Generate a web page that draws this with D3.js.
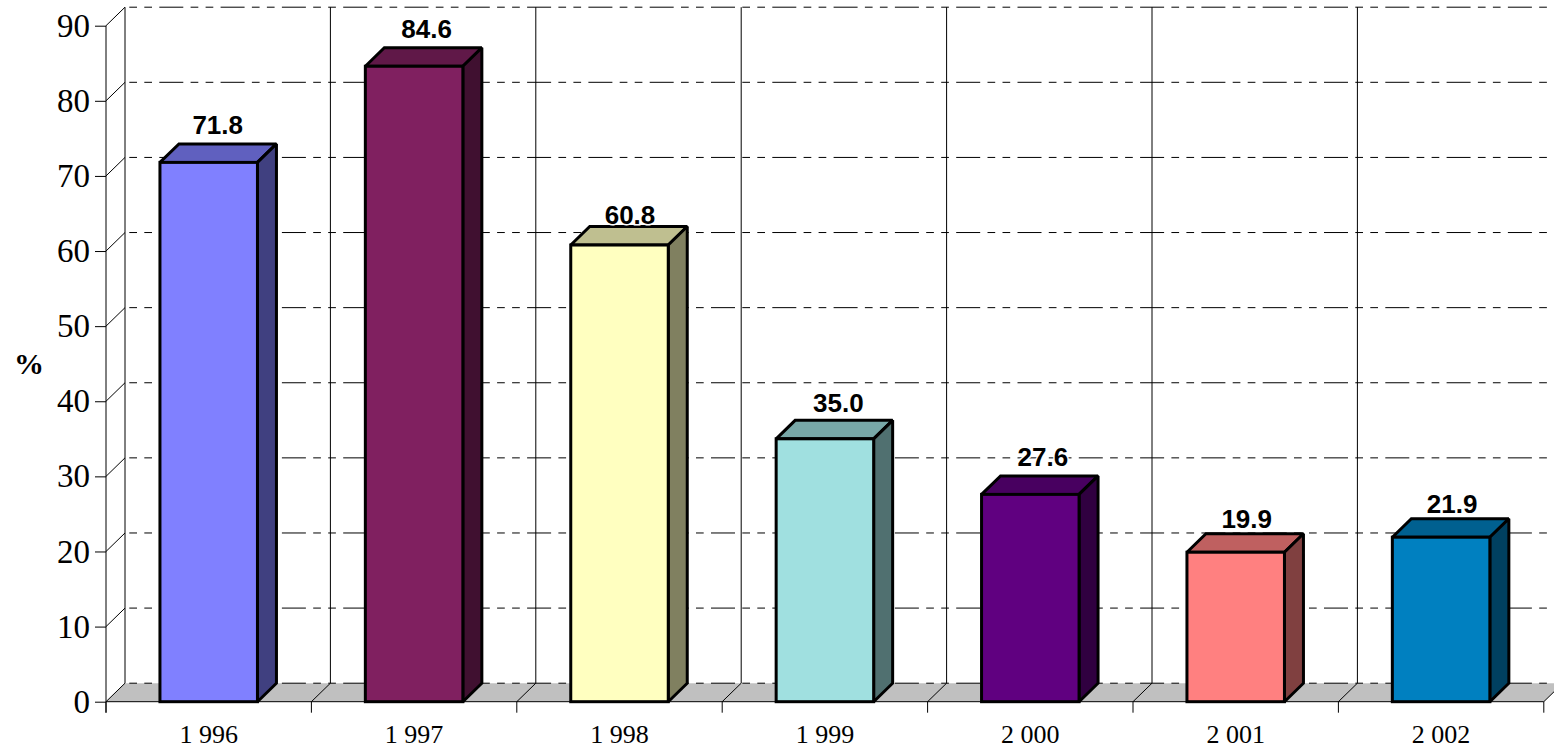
<!DOCTYPE html>
<html>
<head>
<meta charset="utf-8">
<script src="https://cdn.jsdelivr.net/npm/d3@7"></script>
<style>
  html, body { margin: 0; padding: 0; background: #fff; }
  svg { display: block; }
</style>
</head>
<body>
<svg id="chart" width="1554" height="750"></svg>
<script>
// ---------- data ----------
const years = ['1 996', '1 997', '1 998', '1 999', '2 000', '2 001', '2 002'];
const values = [71.8, 84.6, 60.8, 35.0, 27.6, 19.9, 21.9];
const yTicks = [0, 10, 20, 30, 40, 50, 60, 70, 80, 90];
const fronts = ['#8080ff', '#802060', '#ffffc0', '#a0e0e0', '#600080', '#ff8080', '#0080c0'];
// the labels sit a little unevenly in the original
const labelGaps = [10, 9.5, 3, 8, 9.5, 6, 5.5];
const labelShifts = [-0.5, 3, 1, 4, 3, 1.5, 1.5];

// ---------- layout ----------
const svg = d3.select('#chart');
const plotLeft = 106, plotRight = 1543.8, plotBottom = 701.7, plotTop = 25.7;
const depthX = 19, depthY = 18.5;
const barW = 97.5;

const x = d3.scaleBand().domain(years).range([plotLeft, plotRight]);
const y = d3.scaleLinear().domain([0, 90]).range([plotBottom, plotTop]);
const edges = years.map(d => x(d)).concat([plotRight]);

// floor
svg.append('path')
  .attr('d', `M${plotLeft},${plotBottom}L${plotLeft + depthX},${plotBottom - depthY}L${plotRight + depthX},${plotBottom - depthY}L${plotRight},${plotBottom}Z`)
  .attr('fill', '#c0c0c0');

// dashed lines on the back wall
svg.selectAll('line.grid').data(yTicks).enter().append('line')
  .attr('class', 'grid')
  .attr('x1', plotLeft + depthX).attr('x2', 1554)
  .attr('y1', d => y(d) - depthY)
  .attr('y2', d => y(d) - depthY)
  .attr('stroke', '#000')
  .attr('stroke-dasharray', '24,7.3,7.7,7.3,7.7,7.3')
  .attr('stroke-dashoffset', 27);

// verticals on the back wall
svg.selectAll('line.wall').data(edges.slice(0, -1)).enter().append('line')
  .attr('class', 'wall')
  .attr('x1', d => d + depthX).attr('x2', d => d + depthX)
  .attr('y1', plotTop - depthY).attr('y2', plotBottom - depthY)
  .attr('stroke', '#000');

// floor diagonals and the ticks under them
svg.selectAll('line.diag').data(edges).enter().append('line')
  .attr('class', 'diag')
  .attr('x1', d => d).attr('y1', plotBottom)
  .attr('x2', d => d + depthX).attr('y2', plotBottom - depthY)
  .attr('stroke', '#000');
svg.selectAll('line.xtick').data(edges).enter().append('line')
  .attr('class', 'xtick')
  .attr('x1', d => d).attr('x2', d => d)
  .attr('y1', plotBottom).attr('y2', plotBottom + 11)
  .attr('stroke', '#000');

// y axis
const yAxis = svg.append('g')
  .attr('transform', `translate(${plotLeft},0)`)
  .call(d3.axisLeft(y).tickValues(yTicks).tickSize(11).tickPadding(5));
yAxis.selectAll('text')
  .attr('font-family', '"Liberation Serif"').attr('font-size', 33).attr('fill', '#000');
yAxis.select('.domain').attr('d', `M0,${plotTop}V${plotBottom + 11}`).attr('stroke', '#000');

// diagonals on the left wall
svg.selectAll('line.ydiag').data(yTicks.slice(1)).enter().append('line')
  .attr('class', 'ydiag')
  .attr('x1', plotLeft).attr('y1', d => y(d))
  .attr('x2', plotLeft + depthX).attr('y2', d => y(d) - depthY)
  .attr('stroke', '#000');

// x axis
const xAxis = svg.append('g')
  .attr('transform', `translate(0,${plotBottom})`)
  .call(d3.axisBottom(x).tickSize(0).tickPadding(23));
xAxis.select('.domain').attr('d', `M${plotLeft},0H${plotRight}`).attr('stroke', '#000');
xAxis.selectAll('text')
  .attr('font-family', '"Liberation Serif"').attr('font-size', 26).attr('fill', '#000');

// boxes
const bars = svg.selectAll('g.bar').data(years).enter().append('g').attr('class', 'bar');
const barLeft = d => x(d) + (x.bandwidth() - barW) / 2;
const shade = (c, k) => {
  const rgb = d3.rgb(c);
  return d3.rgb(rgb.r * k, rgb.g * k, rgb.b * k).formatHex();
};
const outlined = sel => sel.attr('stroke', '#000').attr('stroke-width', 3)
  .attr('stroke-linejoin', 'miter').attr('stroke-miterlimit', 2);

// top face
outlined(bars.append('path'))
  .attr('fill', (d, i) => shade(fronts[i], 0.75))
  .attr('d', (d, i) => {
    const a = barLeft(d), t = y(values[i]);
    return `M${a},${t}L${a + depthX},${t - depthY}L${a + barW + depthX},${t - depthY}L${a + barW},${t}Z`;
  });
// side face
outlined(bars.append('path'))
  .attr('fill', (d, i) => shade(fronts[i], 0.5))
  .attr('d', (d, i) => {
    const a = barLeft(d) + barW, t = y(values[i]);
    return `M${a},${t}L${a + depthX},${t - depthY}L${a + depthX},${plotBottom - depthY}L${a},${plotBottom}Z`;
  });
// front face
outlined(bars.append('rect'))
  .attr('fill', (d, i) => fronts[i])
  .attr('x', d => barLeft(d))
  .attr('y', (d, i) => y(values[i]))
  .attr('width', barW)
  .attr('height', (d, i) => plotBottom - y(values[i]));

// value labels
bars.append('text')
  .attr('x', (d, i) => barLeft(d) + barW / 2 + depthX / 2 + labelShifts[i])
  .attr('y', (d, i) => y(values[i]) - depthY - labelGaps[i])
  .attr('text-anchor', 'middle')
  .attr('font-family', '"Liberation Sans"').attr('font-weight', 'bold').attr('font-size', 26)
  .attr('fill', '#000')
  .attr('stroke', '#fff').attr('stroke-width', 3).attr('paint-order', 'stroke')
  .text((d, i) => values[i].toFixed(1));

// y title
svg.append('text')
  .attr('x', 29).attr('y', 374)
  .attr('text-anchor', 'middle')
  .attr('font-family', '"Liberation Serif"').attr('font-weight', 'bold').attr('font-size', 30)
  .text('%');
</script>
</body>
</html>
